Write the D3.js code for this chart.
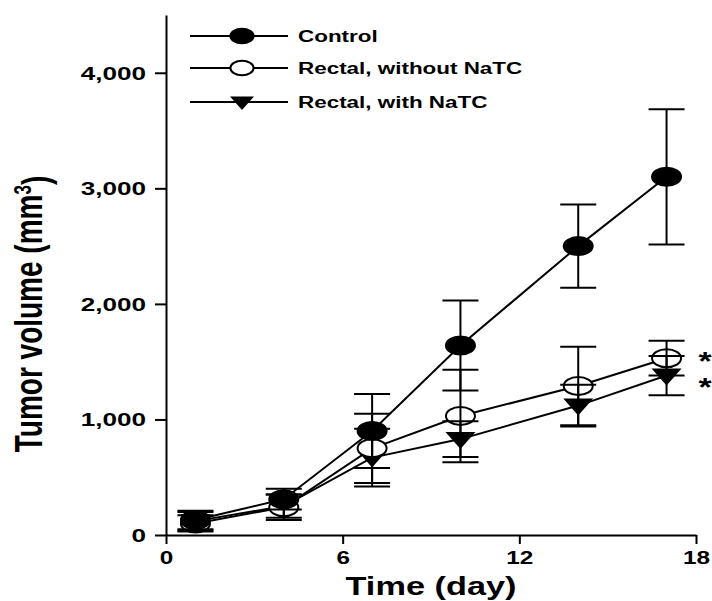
<!doctype html>
<html>
  <head>
    <meta charset="UTF-8">
    <title>Tumor volume</title>
    <style>
      body { margin: 0; background: #fff; }
      svg text { font-family: "Liberation Sans", Arial, sans-serif; font-weight: bold; fill: #000; }
      .axis path, .axis line { stroke: #000; stroke-width: 2px; }
    </style>
  </head>
  <body>
    <svg id="chart" width="712" height="601"></svg>
    <script src="https://d3js.org/d3.v7.min.js"></script>
    <script>
      // values
      const days = [1, 4, 7, 10, 14, 17];
      const controlMean = [130, 310, 900, 1640, 2500, 3100];
      const controlErr = [80, 90, 320, 390, 360, 585];
      const noNatcMean = [100, 240, 750, 1030, 1290, 1530];
      const noNatcErr = [70, 110, 300, 400, 340, 150];
      const natcMean = [120, 250, 670, 830, 1120, 1380];
      const natcErr = [80, 100, 250, 155, 180, 170];
      const xTicks = [0, 6, 12, 18];
      const yTicks = [0, 1000, 2000, 3000, 4000];
      const seriesNames = ["Control", "Rectal, without NaTC", "Rectal, with NaTC"];
      const starValues = [1560, 1330];

      const svg = d3.select("#chart");
      const x = d3.scaleLinear().domain([0, 18]).range([166, 696]);
      const y = d3.scaleLinear().domain([0, 4500]).range([535, 15]);

      // axes (the picture is stretched sideways, so the text gets a scale too)
      const yAxis = svg.append("g").attr("class", "axis")
        .attr("transform", "translate(166,0)")
        .call(d3.axisLeft(y).tickValues(yTicks).tickFormat(d3.format(",")).tickSize(11).tickSizeOuter(0));
      yAxis.selectAll("text")
        .attr("x", -20 / 1.45).attr("dy", "0.36em")
        .attr("transform", "scale(1.45,1)")
        .style("font-size", "18px");

      const xAxis = svg.append("g").attr("class", "axis")
        .attr("transform", "translate(0,535)")
        .call(d3.axisBottom(x).tickValues(xTicks).tickSize(9).tickSizeOuter(0));
      xAxis.selectAll(".tick text")
        .attr("y", 16)
        .attr("transform", "scale(1.35,1)")
        .style("font-size", "18px");

      svg.append("g").attr("transform", "translate(431,595) scale(1.32,1)")
        .append("text").attr("text-anchor", "middle").style("font-size", "26px")
        .text("Time (day)");

      const yTitle = svg.append("g").attr("transform", "translate(42,314) scale(1.38,1) rotate(-90)")
        .append("text").attr("text-anchor", "middle").style("font-size", "28px");
      yTitle.append("tspan").text("Tumor volume (mm");
      yTitle.append("tspan").attr("dy", "-0.45em").style("font-size", "17px").text("3");
      yTitle.append("tspan").attr("dy", "0.45em").text(")");

      const series = [
        { mean: controlMean, err: controlErr, shape: "filled" },
        { mean: noNatcMean, err: noNatcErr, shape: "open" },
        { mean: natcMean, err: natcErr, shape: "tri" }
      ];

      function drawMarker(g, shape, cx, cy, s) {
        if (shape === "tri") {
          const w = 15 * s, top = 7 * s, bot = 10 * s;
          g.append("path")
            .attr("d", `M${cx - w},${cy - top}L${cx + w},${cy - top}L${cx},${cy + bot}Z`)
            .attr("fill", "#000");
        } else {
          g.append("ellipse")
            .attr("cx", cx).attr("cy", cy).attr("rx", 14.5 * s).attr("ry", 9 * s)
            .attr("fill", shape === "filled" ? "#000" : "#fff")
            .attr("stroke", "#000").attr("stroke-width", 2);
        }
      }

      const line = d3.line().x(d => x(d[0])).y(d => y(d[1]));
      const plot = svg.append("g");

      // connecting lines
      series.slice().reverse().forEach(s => {
        plot.append("path")
          .datum(days.map((d, i) => [d, s.mean[i]]))
          .attr("d", line).attr("fill", "none")
          .attr("stroke", "#000").attr("stroke-width", 2);
      });

      // markers
      series.slice().reverse().forEach(s => {
        days.forEach((d, i) => drawMarker(plot, s.shape, x(d), y(s.mean[i]), 1));
      });

      // error bars on top
      series.forEach(s => {
        days.forEach((d, i) => {
          const cx = x(d), hi = y(s.mean[i] + s.err[i]), lo = y(s.mean[i] - s.err[i]);
          plot.append("line").attr("x1", cx).attr("x2", cx).attr("y1", hi).attr("y2", lo)
            .attr("stroke", "#000").attr("stroke-width", 2);
          [hi, lo].forEach(v => plot.append("line")
            .attr("x1", cx - 18).attr("x2", cx + 18).attr("y1", v).attr("y2", v)
            .attr("stroke", "#000").attr("stroke-width", 2));
        });
      });

      // significance stars
      starValues.forEach(v => {
        svg.append("g").attr("transform", `translate(705,${y(v) + 15}) scale(1.3,1)`)
          .append("text").attr("text-anchor", "middle").style("font-size", "26px").text("*");
      });

      // legend
      const legendY = [36, 68, 102];
      series.forEach((s, i) => {
        const g = svg.append("g");
        g.append("line").attr("x1", 190).attr("x2", 288)
          .attr("y1", legendY[i]).attr("y2", legendY[i])
          .attr("stroke", "#000").attr("stroke-width", 2);
        drawMarker(g, s.shape, 242, legendY[i], 0.8);
        g.append("g").attr("transform", `translate(298,${legendY[i] + 6}) scale(1.32,1)`)
          .append("text").style("font-size", "17px").text(seriesNames[i]);
      });
    </script>
  </body>
</html>
